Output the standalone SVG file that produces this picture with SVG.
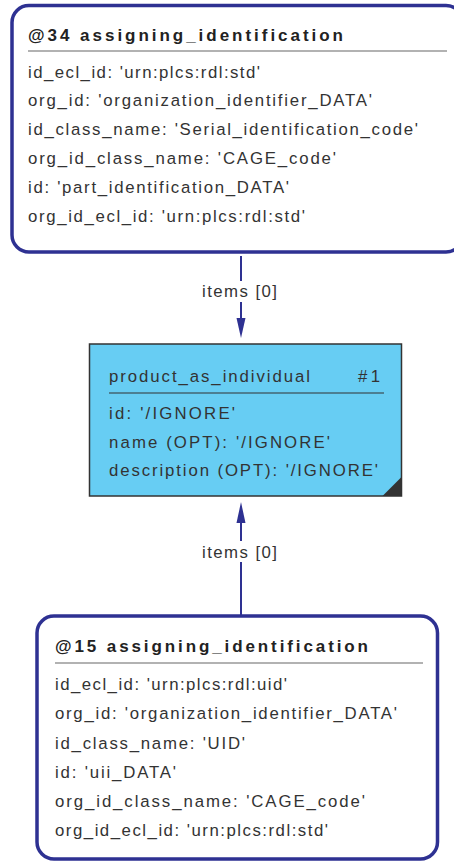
<svg xmlns="http://www.w3.org/2000/svg" width="454" height="861" viewBox="0 0 454 861">
<style>
.ent{fill:#ffffff;stroke:#2e3192;stroke-width:3.5}
.t{font-family:"Liberation Sans",Arial,sans-serif;font-size:16.8px;fill:#333333}
.h{font-family:"Liberation Sans",Arial,sans-serif;font-size:17px;font-weight:bold;fill:#222222}
.sep{stroke:#666666;stroke-width:1.2}
.edge{stroke:#2e3192;stroke-width:2;fill:none}
.ah{fill:#2e3192}
.lblbg{fill:#ffffff}
</style>
<rect width="454" height="861" fill="#ffffff"/>
<g id="node34">
<rect class="ent" x="12" y="5.5" width="451" height="246.5" rx="17"/>
<text class="h" x="28" y="41" textLength="315" lengthAdjust="spacing">@34 assigning_identification</text>
<line class="sep" x1="28" y1="51" x2="447" y2="51"/>
<text class="t" x="28" y="78" textLength="232" lengthAdjust="spacing">id_ecl_id: 'urn:plcs:rdl:std'</text>
<text class="t" x="28" y="106" textLength="344" lengthAdjust="spacing">org_id: 'organization_identifier_DATA'</text>
<text class="t" x="28" y="135" textLength="390" lengthAdjust="spacing">id_class_name: 'Serial_identification_code'</text>
<text class="t" x="28" y="164" textLength="308" lengthAdjust="spacing">org_id_class_name: 'CAGE_code'</text>
<text class="t" x="28" y="193" textLength="261" lengthAdjust="spacing">id: 'part_identification_DATA'</text>
<text class="t" x="28" y="222" textLength="277" lengthAdjust="spacing">org_id_ecl_id: 'urn:plcs:rdl:std'</text>
</g>
<g id="node1">
<rect x="89.5" y="344" width="312" height="152" fill="#67cdf3" stroke="#333333" stroke-width="1.5"/>
<polygon points="401.5,477 401.5,496 382.5,496" fill="#333333"/>
<text class="t" x="109" y="382" textLength="201" lengthAdjust="spacing">product_as_individual</text>
<text class="t" x="358" y="382" textLength="22" lengthAdjust="spacing">#1</text>
<line x1="109" y1="393" x2="384" y2="393" stroke="#333333" stroke-width="1.2"/>
<text class="t" x="109" y="419" textLength="126" lengthAdjust="spacing">id: '/IGNORE'</text>
<text class="t" x="109" y="448" textLength="221" lengthAdjust="spacing">name (OPT): '/IGNORE'</text>
<text class="t" x="109" y="476" textLength="269" lengthAdjust="spacing">description (OPT): '/IGNORE'</text>
</g>
<g id="node15">
<rect class="ent" x="37" y="616" width="400.5" height="243" rx="17"/>
<text class="h" x="55" y="652" textLength="313" lengthAdjust="spacing">@15 assigning_identification</text>
<line class="sep" x1="55" y1="663" x2="423" y2="663"/>
<text class="t" x="55" y="690" textLength="232" lengthAdjust="spacing">id_ecl_id: 'urn:plcs:rdl:uid'</text>
<text class="t" x="55" y="719" textLength="342" lengthAdjust="spacing">org_id: 'organization_identifier_DATA'</text>
<text class="t" x="55" y="749" textLength="190" lengthAdjust="spacing">id_class_name: 'UID'</text>
<text class="t" x="55" y="778" textLength="121" lengthAdjust="spacing">id: 'uii_DATA'</text>
<text class="t" x="55" y="807" textLength="310" lengthAdjust="spacing">org_id_class_name: 'CAGE_code'</text>
<text class="t" x="55" y="836" textLength="273" lengthAdjust="spacing">org_id_ecl_id: 'urn:plcs:rdl:std'</text>
</g>
<g id="connectors">
<line class="edge" x1="241" y1="256" x2="241" y2="320"/>
<polygon class="ah" points="236.5,318 245.5,318 241,338"/>
<rect class="lblbg" x="200" y="281" width="80" height="21"/>
<text class="t" x="202" y="297" textLength="75" lengthAdjust="spacing">items [0]</text>
<line class="edge" x1="241" y1="521" x2="241" y2="615"/>
<polygon class="ah" points="236.5,523 245.5,523 241,502"/>
<rect class="lblbg" x="200" y="541" width="80" height="21"/>
<text class="t" x="202" y="558" textLength="75" lengthAdjust="spacing">items [0]</text>
</g>
</svg>
